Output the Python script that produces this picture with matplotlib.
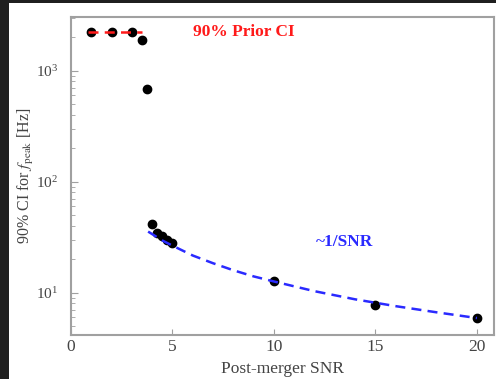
import numpy as np
import matplotlib
matplotlib.use("Agg")
import matplotlib.pyplot as plt
from matplotlib.patches import Rectangle

# 90% credible interval width on f_peak versus post-merger SNR
snr = [1, 2, 3, 3.5, 3.75, 4, 4.25, 4.5, 4.75, 5, 10, 15, 20]
ci_width = [2245, 2245, 2245, 1890, 690, 41.3, 34.5, 32.4, 30.1, 28.0, 12.8, 7.74, 5.88]

# prior-limited interval (flat segment at low SNR)
prior_snr = [0.85, 3.5]
prior_ci = [2245, 2245]

# ~1/SNR trend
trend_snr = [3.8, 4.5, 5, 6, 7, 8, 9, 10, 12, 14, 16, 18, 20]
trend_ci = [35.5, 29.5, 26.5, 21.6, 18.4, 15.9, 14.0, 12.6, 10.3, 8.7, 7.55, 6.65, 5.9]

plt.rcParams["font.family"] = ["Liberation Serif", "DejaVu Serif"]
plt.rcParams["mathtext.fontset"] = "stix"

text_color = "#444444"
spine_color = "#a0a0a0"

fig = plt.figure(figsize=(4.96, 3.79), dpi=100, facecolor="#1f1f1f")
fig.patches.append(Rectangle((9 / 496, 0), 1, 1 - 3 / 379, transform=fig.transFigure,
                             facecolor="white", edgecolor="none", zorder=-10))

ax = fig.add_axes([71 / 496, 1 - 335 / 379, 423 / 496, 318 / 379])
ax.set_yscale("log")
ax.set_xlim(0, 20.84)
ax.set_ylim(4.15, 3050)

ax.plot(snr, ci_width, "o", color="black", markersize=6, zorder=3)
ax.plot(prior_snr, prior_ci, "--", color="#ff1a1a", linewidth=1.8,
        dashes=(4, 2.5), zorder=4)
ax.plot(trend_snr, trend_ci, "--", color="#2a2aff", linewidth=1.8,
        dashes=(4, 2.5), zorder=4)

ax.text(6.0, 2245, "90% Prior CI", color="#ff1a1a", fontsize=12.5,
        fontweight="bold", va="center", ha="left")
ax.text(12.05, 28.8, "~1/SNR", color="#2a2aff", fontsize=12.5,
        fontweight="bold", va="center", ha="left")

ax.set_xticks([0, 5, 10, 15, 20])
ax.set_xlabel("Post-merger SNR", fontsize=12.5, color=text_color, labelpad=4)
ax.set_ylabel(r"90% CI for $f_{\rm peak}$ [Hz]", fontsize=11.5,
              color=text_color, labelpad=0)

ax.tick_params(axis="both", which="both", direction="in", colors=spine_color,
               labelcolor=text_color)
ax.tick_params(axis="x", which="major", length=4, pad=3, labelsize=12.5)
ax.tick_params(axis="y", which="major", length=5, pad=9, labelsize=11)
ax.tick_params(axis="y", which="minor", length=3)

for side in ax.spines.values():
    side.set_color(spine_color)
    side.set_linewidth(1.5)

fig.savefig("out.png", dpi=100, facecolor=fig.get_facecolor())
